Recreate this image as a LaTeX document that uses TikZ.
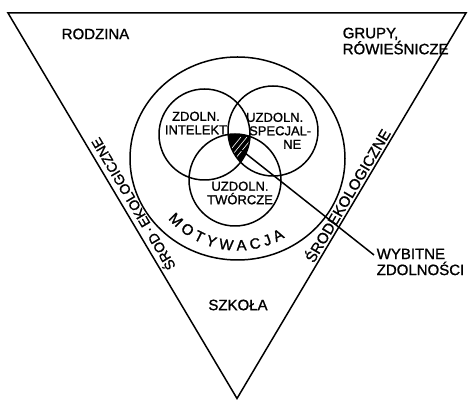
\documentclass[tikz,border=0pt]{standalone}
\usepackage{fontspec}
\setmainfont{Liberation Sans}[FakeBold=1.2]
\usepackage{tikz}
\usetikzlibrary{calc,decorations.text,positioning}

\begin{document}
\begin{tikzpicture}[x=1pt, y=1pt, line width=1.5pt,
  biglbl/.style={font=\fontsize{15}{16}\selectfont, inner sep=0pt},
  smalllbl/.style={font=\fontsize{13}{13.5}\selectfont, inner sep=0pt, align=center},
  sidelbl/.style={font=\fontsize{14}{14}\selectfont, inner sep=2pt}]
\useasboundingbox (0,0) rectangle (468,401);
\coordinate (tl) at (8,388);
\coordinate (tr) at (466,388);
\coordinate (bt) at (237,2.5);
\coordinate (ring) at (237.5,242.5);
\coordinate (ci) at (204.5,266.5);
\coordinate (cs) at (273,270);
\coordinate (ct) at (235,221);
\coordinate (core) at (240,252);
\begin{scope}
  \clip (ci) circle (45.5);
  \clip (cs) circle (45);
  \fill (ct) circle (46);
  \foreach \d in {-9,-3,3}
    \draw[white, line width=0.6pt] ($(core)+(\d-8,-10)$) -- ++(18,22);
\end{scope}
\draw (tl) -- (tr) -- (bt) -- cycle;
\draw (ring) ellipse [x radius=107.5, y radius=101.5];
\foreach \c/\r in {ci/45.5, cs/45, ct/46}
  \draw (\c) circle (\r);
\node[biglbl] (rodzina) at (95.5,367) {RODZINA};
\node[biglbl, anchor=north west, align=left] (grupy) at (342,374) {GRUPY,\\RÓWIEŚNICZE};
\node[biglbl] (szkola) at (238,96) {SZKOŁA};
\node[biglbl, anchor=north west, align=left] (wybitne) at (376,153) {WYBITNE\\ZDOLNOŚCI};
\node[smalllbl] (intel) at (196,278) {ZDOLN.\\INTELEKT};
\node[smalllbl, anchor=north east, align=right] (spec) at (312,289)
  {UZDOLN.\rule{8pt}{0pt}\\SPECJAL-\\NE\rule{10pt}{0pt}};
\node[smalllbl] (tworcze) at (240,208) {UZDOLN.\\TWÓRCZE};
\node[sidelbl, rotate=120.6, anchor=north] (ekolewy) at ($(tl)!0.509!(bt)$) {ŚROD\,·\,EKOLOGICZNE};
\node[sidelbl, font=\fontsize{15}{15}\selectfont, rotate=59.3, anchor=south] (ekoprawy)
  at ($(tr)!0.485!(bt)$) {ŚRODEKOLOGICZNE};
\path[decorate, decoration={text along path, text align={fit to path},
  text={|\fontsize{15}{15}\selectfont|MOTYWACJA}}]
  ($(ring)+(221:92)$) arc[start angle=221, end angle=301, radius=92];
\draw (core) -- ($(wybitne.north west)+(-2,-7)$);
\end{tikzpicture}
\end{document}
